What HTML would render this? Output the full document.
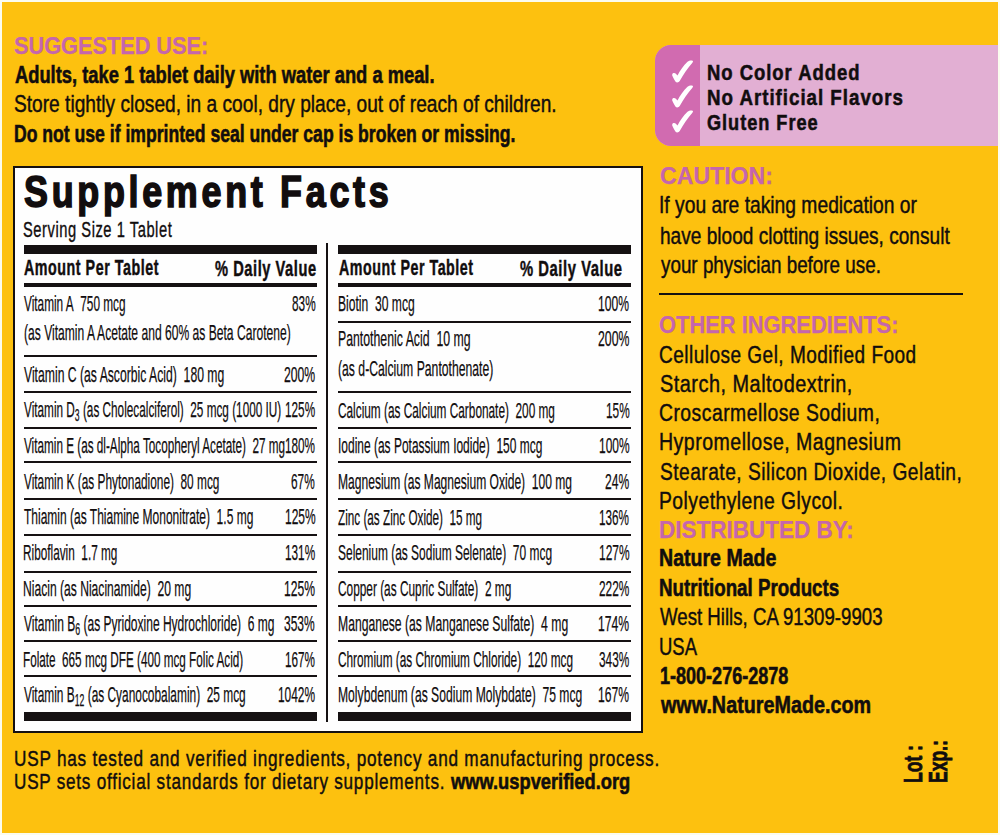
<!DOCTYPE html>
<html><head><meta charset="utf-8"><style>
html,body{margin:0;padding:0;}
body{width:1000px;height:835px;position:relative;overflow:hidden;background:#fbfcef;font-family:"Liberation Sans",sans-serif;}
.bg{position:absolute;left:2px;top:2px;width:995.8px;height:830.8px;background:#fdc10f;}
.t{position:absolute;white-space:nowrap;line-height:1;transform-origin:0 0;}
.r{position:absolute;}
sub{font-size:0.73em;vertical-align:-0.28em;line-height:0}
.box{position:absolute;left:12.5px;top:166px;width:626.5px;height:563px;border:2px solid #151112;background:#fefefe;}
.pk{position:absolute;left:655px;top:44.5px;width:342.7px;height:101.3px;background:#e2afd3;border-radius:16px 0 0 16px;overflow:hidden;}
.pkd{position:absolute;left:0;top:0;width:45px;height:100%;background:#d16bb0;}
.ck{position:absolute;}
.hr{position:absolute;left:659.2px;top:292.8px;width:303.6px;height:2px;background:#151112;}
.rot{position:absolute;white-space:nowrap;font-weight:700;color:#110d0e;transform-origin:0 0;transform:rotate(-90deg);line-height:1;-webkit-text-stroke:0.8px #110d0e}
</style></head><body>
<div class="bg"></div>
<div class="pk"><div class="pkd"></div></div>
<div class="ck" style="left:671px;top:59.5px"><svg width="24" height="24" viewBox="0 0 24 24"><path d="M1.3 14.3 C1.5 13 3.5 12.4 4.6 13.6 L6.5 15.6 C9 10.5 12.5 5.5 16.5 1.8 C18 0.6 20.5 0.2 21.6 0.8 C22.3 1.4 22 2.2 21.2 3 C16.5 8.5 12 15 8.7 21 C7.8 22.6 5.6 23 4.4 21.6 C3.2 19.5 2 17.5 1.3 15.8 C1.1 15.3 1.1 14.8 1.3 14.3 Z" fill="#fff"/></svg></div>
<div class="ck" style="left:671px;top:84.5px"><svg width="24" height="24" viewBox="0 0 24 24"><path d="M1.3 14.3 C1.5 13 3.5 12.4 4.6 13.6 L6.5 15.6 C9 10.5 12.5 5.5 16.5 1.8 C18 0.6 20.5 0.2 21.6 0.8 C22.3 1.4 22 2.2 21.2 3 C16.5 8.5 12 15 8.7 21 C7.8 22.6 5.6 23 4.4 21.6 C3.2 19.5 2 17.5 1.3 15.8 C1.1 15.3 1.1 14.8 1.3 14.3 Z" fill="#fff"/></svg></div>
<div class="ck" style="left:671px;top:109.5px"><svg width="24" height="24" viewBox="0 0 24 24"><path d="M1.3 14.3 C1.5 13 3.5 12.4 4.6 13.6 L6.5 15.6 C9 10.5 12.5 5.5 16.5 1.8 C18 0.6 20.5 0.2 21.6 0.8 C22.3 1.4 22 2.2 21.2 3 C16.5 8.5 12 15 8.7 21 C7.8 22.6 5.6 23 4.4 21.6 C3.2 19.5 2 17.5 1.3 15.8 C1.1 15.3 1.1 14.8 1.3 14.3 Z" fill="#fff"/></svg></div>
<div class="box"></div>
<div class="hr"></div>
<div class="r" style="left:24.00px;top:245.00px;width:293.20px;height:9.00px;background:#151112"></div>
<div class="r" style="left:24.00px;top:283.00px;width:293.20px;height:4.40px;background:#151112"></div>
<div class="r" style="left:24.00px;top:712.30px;width:293.20px;height:8.60px;background:#151112"></div>
<div class="r" style="left:338.30px;top:245.00px;width:293.20px;height:9.00px;background:#151112"></div>
<div class="r" style="left:338.30px;top:283.00px;width:293.20px;height:4.40px;background:#151112"></div>
<div class="r" style="left:338.30px;top:712.30px;width:293.20px;height:8.60px;background:#151112"></div>
<div class="r" style="left:24.00px;top:355.00px;width:293.20px;height:2.10px;background:#151112"></div>
<div class="r" style="left:24.00px;top:391.30px;width:293.20px;height:2.10px;background:#151112"></div>
<div class="r" style="left:24.00px;top:427.20px;width:293.20px;height:2.10px;background:#151112"></div>
<div class="r" style="left:24.00px;top:460.70px;width:293.20px;height:2.10px;background:#151112"></div>
<div class="r" style="left:24.00px;top:497.60px;width:293.20px;height:2.10px;background:#151112"></div>
<div class="r" style="left:24.00px;top:534.40px;width:293.20px;height:2.10px;background:#151112"></div>
<div class="r" style="left:24.00px;top:571.00px;width:293.20px;height:2.10px;background:#151112"></div>
<div class="r" style="left:24.00px;top:604.80px;width:293.20px;height:2.10px;background:#151112"></div>
<div class="r" style="left:24.00px;top:640.00px;width:293.20px;height:2.10px;background:#151112"></div>
<div class="r" style="left:24.00px;top:675.10px;width:293.20px;height:2.10px;background:#151112"></div>
<div class="r" style="left:338.30px;top:320.50px;width:293.20px;height:2.10px;background:#151112"></div>
<div class="r" style="left:338.30px;top:391.30px;width:293.20px;height:2.10px;background:#151112"></div>
<div class="r" style="left:338.30px;top:427.20px;width:293.20px;height:2.10px;background:#151112"></div>
<div class="r" style="left:338.30px;top:460.70px;width:293.20px;height:2.10px;background:#151112"></div>
<div class="r" style="left:338.30px;top:497.60px;width:293.20px;height:2.10px;background:#151112"></div>
<div class="r" style="left:338.30px;top:534.40px;width:293.20px;height:2.10px;background:#151112"></div>
<div class="r" style="left:338.30px;top:571.00px;width:293.20px;height:2.10px;background:#151112"></div>
<div class="r" style="left:338.30px;top:604.80px;width:293.20px;height:2.10px;background:#151112"></div>
<div class="r" style="left:338.30px;top:640.00px;width:293.20px;height:2.10px;background:#151112"></div>
<div class="r" style="left:338.30px;top:675.10px;width:293.20px;height:2.10px;background:#151112"></div>
<div class="r" style="left:326.20px;top:243.00px;width:2.20px;height:479.00px;background:#151112"></div>
<div class="t" style="left:14.40px;top:34.29px;font-size:24.13px;font-weight:700;color:#c566ad;transform:scaleX(0.9000);-webkit-text-stroke:0.25px currentColor;">SUGGESTED USE:</div>
<div class="t" style="left:14.50px;top:62.89px;font-size:24.13px;font-weight:700;color:#110d0e;transform:scaleX(0.7595);-webkit-text-stroke:0.6px currentColor;">Adults, take 1 tablet daily with water and a meal.</div>
<div class="t" style="left:13.71px;top:92.49px;font-size:24.13px;font-weight:400;color:#110d0e;transform:scaleX(0.7934);-webkit-text-stroke:0.45px currentColor;">Store tightly closed, in a cool, dry place, out of reach of children.</div>
<div class="t" style="left:14.07px;top:121.89px;font-size:24.13px;font-weight:700;color:#110d0e;transform:scaleX(0.7292);-webkit-text-stroke:0.6px currentColor;">Do not use if imprinted seal under cap is broken or missing.</div>
<div class="t" style="left:706.88px;top:60.73px;font-size:22.67px;font-weight:700;color:#110d0e;transform:scaleX(0.8151);-webkit-text-stroke:0.55px currentColor;letter-spacing:1.2px;">No Color Added</div>
<div class="t" style="left:706.87px;top:85.63px;font-size:22.67px;font-weight:700;color:#110d0e;transform:scaleX(0.8258);-webkit-text-stroke:0.55px currentColor;letter-spacing:1.2px;">No Artificial Flavors</div>
<div class="t" style="left:706.90px;top:110.53px;font-size:22.67px;font-weight:700;color:#110d0e;transform:scaleX(0.8022);-webkit-text-stroke:0.55px currentColor;letter-spacing:1.2px;">Gluten Free</div>
<div class="t" style="left:659.95px;top:163.87px;font-size:24.27px;font-weight:700;color:#c566ad;transform:scaleX(0.9526);-webkit-text-stroke:0.25px currentColor;">CAUTION:</div>
<div class="t" style="left:659.18px;top:193.34px;font-size:23.84px;font-weight:400;color:#110d0e;transform:scaleX(0.8082);-webkit-text-stroke:0.45px currentColor;">If you are taking medication or</div>
<div class="t" style="left:660.00px;top:223.74px;font-size:23.84px;font-weight:400;color:#110d0e;transform:scaleX(0.8011);-webkit-text-stroke:0.45px currentColor;">have blood clotting issues, consult</div>
<div class="t" style="left:660.80px;top:252.74px;font-size:23.84px;font-weight:400;color:#110d0e;transform:scaleX(0.7906);-webkit-text-stroke:0.45px currentColor;">your physician before use.</div>
<div class="t" style="left:659.40px;top:313.37px;font-size:24.27px;font-weight:700;color:#c566ad;transform:scaleX(0.9015);-webkit-text-stroke:0.25px currentColor;">OTHER INGREDIENTS:</div>
<div class="t" style="left:659.42px;top:342.54px;font-size:24.42px;font-weight:400;color:#110d0e;transform:scaleX(0.7804);-webkit-text-stroke:0.45px currentColor;letter-spacing:0.6px;">Cellulose Gel, Modified Food</div>
<div class="t" style="left:659.68px;top:371.54px;font-size:24.42px;font-weight:400;color:#110d0e;transform:scaleX(0.8159);-webkit-text-stroke:0.45px currentColor;letter-spacing:0.6px;">Starch, Maltodextrin,</div>
<div class="t" style="left:659.41px;top:400.84px;font-size:24.42px;font-weight:400;color:#110d0e;transform:scaleX(0.7928);-webkit-text-stroke:0.45px currentColor;letter-spacing:0.6px;">Croscarmellose Sodium,</div>
<div class="t" style="left:658.90px;top:430.14px;font-size:24.42px;font-weight:400;color:#110d0e;transform:scaleX(0.8010);-webkit-text-stroke:0.45px currentColor;letter-spacing:0.6px;">Hypromellose, Magnesium</div>
<div class="t" style="left:659.71px;top:459.74px;font-size:24.42px;font-weight:400;color:#110d0e;transform:scaleX(0.7861);-webkit-text-stroke:0.45px currentColor;letter-spacing:0.6px;">Stearate, Silicon Dioxide, Gelatin,</div>
<div class="t" style="left:658.92px;top:489.14px;font-size:24.42px;font-weight:400;color:#110d0e;transform:scaleX(0.7908);-webkit-text-stroke:0.45px currentColor;letter-spacing:0.6px;">Polyethylene Glycol.</div>
<div class="t" style="left:659.47px;top:517.97px;font-size:24.27px;font-weight:700;color:#c566ad;transform:scaleX(0.9275);-webkit-text-stroke:0.25px currentColor;">DISTRIBUTED BY:</div>
<div class="t" style="left:658.81px;top:546.20px;font-size:24.71px;font-weight:700;color:#110d0e;transform:scaleX(0.7918);-webkit-text-stroke:0.6px currentColor;">Nature Made</div>
<div class="t" style="left:658.84px;top:575.60px;font-size:24.71px;font-weight:700;color:#110d0e;transform:scaleX(0.7589);-webkit-text-stroke:0.6px currentColor;">Nutritional Products</div>
<div class="t" style="left:660.00px;top:605.40px;font-size:24.71px;font-weight:400;color:#110d0e;transform:scaleX(0.7551);-webkit-text-stroke:0.45px currentColor;">West Hills, CA 91309-9903</div>
<div class="t" style="left:658.91px;top:634.80px;font-size:24.71px;font-weight:400;color:#110d0e;transform:scaleX(0.7469);-webkit-text-stroke:0.45px currentColor;">USA</div>
<div class="t" style="left:659.87px;top:663.60px;font-size:24.71px;font-weight:700;color:#110d0e;transform:scaleX(0.7299);-webkit-text-stroke:0.6px currentColor;">1-800-276-2878</div>
<div class="t" style="left:660.50px;top:693.30px;font-size:24.71px;font-weight:700;color:#110d0e;transform:scaleX(0.8000);-webkit-text-stroke:0.6px currentColor;">www.NatureMade.com</div>
<div class="t" style="left:14.23px;top:748.10px;font-size:22.24px;font-weight:400;color:#110d0e;transform:scaleX(0.7727);-webkit-text-stroke:0.45px currentColor;letter-spacing:1.0px;">USP has tested and verified ingredients, potency and manufacturing process.</div>
<div class="t" style="left:14.23px;top:771.30px;font-size:22.24px;font-weight:400;color:#110d0e;transform:scaleX(0.7696);-webkit-text-stroke:0.45px currentColor;letter-spacing:1.0px;">USP sets official standards for dietary supplements.</div>
<div class="t" style="left:450.70px;top:771.30px;font-size:22.24px;font-weight:700;color:#110d0e;transform:scaleX(0.8230);-webkit-text-stroke:0.6px currentColor;">www.uspverified.org</div>
<div class="t" style="left:24.10px;top:171.14px;font-size:43.60px;font-weight:700;color:#110d0e;transform:scaleX(0.8233);-webkit-text-stroke:1.6px currentColor;letter-spacing:4.5px;">Supplement Facts</div>
<div class="t" style="left:23.33px;top:219.27px;font-size:21.80px;font-weight:400;color:#110d0e;transform:scaleX(0.6749);-webkit-text-stroke:0.35px currentColor;letter-spacing:0.8px;">Serving Size 1 Tablet</div>
<div class="t" style="left:24.00px;top:256.76px;font-size:21.22px;font-weight:700;color:#110d0e;transform:scaleX(0.6725);-webkit-text-stroke:0.45px currentColor;letter-spacing:0.8px;">Amount Per Tablet</div>
<div class="t" style="left:214.80px;top:257.76px;font-size:21.22px;font-weight:700;color:#110d0e;transform:scaleX(0.6904);-webkit-text-stroke:0.45px currentColor;letter-spacing:0.8px;">% Daily Value</div>
<div class="t" style="left:338.50px;top:256.76px;font-size:21.22px;font-weight:700;color:#110d0e;transform:scaleX(0.6705);-webkit-text-stroke:0.45px currentColor;letter-spacing:0.8px;">Amount Per Tablet</div>
<div class="t" style="left:519.70px;top:257.76px;font-size:21.22px;font-weight:700;color:#110d0e;transform:scaleX(0.6966);-webkit-text-stroke:0.45px currentColor;letter-spacing:0.8px;">% Daily Value</div>
<div class="t" style="left:24.20px;top:293.07px;font-size:21.80px;font-weight:400;color:#110d0e;transform:scaleX(0.5419);-webkit-text-stroke:0.25px currentColor;">Vitamin A&nbsp; 750 mcg</div>
<div class="t" style="left:291.50px;top:293.07px;font-size:21.80px;font-weight:400;color:#110d0e;transform:scaleX(0.5419);-webkit-text-stroke:0.25px currentColor;">83%</div>
<div class="t" style="left:23.65px;top:321.87px;font-size:21.80px;font-weight:400;color:#110d0e;transform:scaleX(0.5549);-webkit-text-stroke:0.25px currentColor;">(as Vitamin A Acetate and 60% as Beta Carotene)</div>
<div class="t" style="left:24.20px;top:364.27px;font-size:21.80px;font-weight:400;color:#110d0e;transform:scaleX(0.5591);-webkit-text-stroke:0.25px currentColor;">Vitamin C (as Ascorbic Acid)&nbsp; 180 mg</div>
<div class="t" style="left:284.05px;top:364.27px;font-size:21.80px;font-weight:400;color:#110d0e;transform:scaleX(0.5591);-webkit-text-stroke:0.25px currentColor;">200%</div>
<div class="t" style="left:24.20px;top:399.47px;font-size:21.80px;font-weight:400;color:#110d0e;transform:scaleX(0.5404);-webkit-text-stroke:0.25px currentColor;">Vitamin D<sub>3</sub> (as Cholecalciferol)&nbsp; 25 mcg (1000 IU)</div>
<div class="t" style="left:285.08px;top:399.47px;font-size:21.80px;font-weight:400;color:#110d0e;transform:scaleX(0.5404);-webkit-text-stroke:0.25px currentColor;">125%</div>
<div class="t" style="left:24.20px;top:434.67px;font-size:21.80px;font-weight:400;color:#110d0e;transform:scaleX(0.5382);-webkit-text-stroke:0.25px currentColor;">Vitamin E (as dl-Alpha Tocopheryl Acetate)&nbsp; 27 mg</div>
<div class="t" style="left:285.20px;top:434.67px;font-size:21.80px;font-weight:400;color:#110d0e;transform:scaleX(0.5382);-webkit-text-stroke:0.25px currentColor;">180%</div>
<div class="t" style="left:24.20px;top:470.77px;font-size:21.80px;font-weight:400;color:#110d0e;transform:scaleX(0.5436);-webkit-text-stroke:0.25px currentColor;">Vitamin K (as Phytonadione)&nbsp; 80 mcg</div>
<div class="t" style="left:291.43px;top:470.77px;font-size:21.80px;font-weight:400;color:#110d0e;transform:scaleX(0.5436);-webkit-text-stroke:0.25px currentColor;">67%</div>
<div class="t" style="left:24.20px;top:506.17px;font-size:21.80px;font-weight:400;color:#110d0e;transform:scaleX(0.5508);-webkit-text-stroke:0.25px currentColor;">Thiamin (as Thiamine Mononitrate)&nbsp; 1.5 mg</div>
<div class="t" style="left:284.50px;top:506.17px;font-size:21.80px;font-weight:400;color:#110d0e;transform:scaleX(0.5508);-webkit-text-stroke:0.25px currentColor;">125%</div>
<div class="t" style="left:23.12px;top:542.17px;font-size:21.80px;font-weight:400;color:#110d0e;transform:scaleX(0.5409);-webkit-text-stroke:0.25px currentColor;">Riboflavin&nbsp; 1.7 mg</div>
<div class="t" style="left:285.05px;top:542.17px;font-size:21.80px;font-weight:400;color:#110d0e;transform:scaleX(0.5409);-webkit-text-stroke:0.25px currentColor;">131%</div>
<div class="t" style="left:23.09px;top:578.07px;font-size:21.80px;font-weight:400;color:#110d0e;transform:scaleX(0.5553);-webkit-text-stroke:0.25px currentColor;">Niacin (as Niacinamide)&nbsp; 20 mg</div>
<div class="t" style="left:284.26px;top:578.07px;font-size:21.80px;font-weight:400;color:#110d0e;transform:scaleX(0.5553);-webkit-text-stroke:0.25px currentColor;">125%</div>
<div class="t" style="left:24.20px;top:613.27px;font-size:21.80px;font-weight:400;color:#110d0e;transform:scaleX(0.5514);-webkit-text-stroke:0.25px currentColor;">Vitamin B<sub>6</sub> (as Pyridoxine Hydrochloride)&nbsp; 6 mg</div>
<div class="t" style="left:284.47px;top:613.27px;font-size:21.80px;font-weight:400;color:#110d0e;transform:scaleX(0.5514);-webkit-text-stroke:0.25px currentColor;">353%</div>
<div class="t" style="left:23.12px;top:648.97px;font-size:21.80px;font-weight:400;color:#110d0e;transform:scaleX(0.5377);-webkit-text-stroke:0.25px currentColor;">Folate&nbsp; 665 mcg DFE (400 mcg Folic Acid)</div>
<div class="t" style="left:285.23px;top:648.97px;font-size:21.80px;font-weight:400;color:#110d0e;transform:scaleX(0.5377);-webkit-text-stroke:0.25px currentColor;">167%</div>
<div class="t" style="left:24.20px;top:684.37px;font-size:21.80px;font-weight:400;color:#110d0e;transform:scaleX(0.5459);-webkit-text-stroke:0.25px currentColor;">Vitamin B<sub>12</sub> (as Cyanocobalamin)&nbsp; 25 mcg</div>
<div class="t" style="left:278.22px;top:684.37px;font-size:21.80px;font-weight:400;color:#110d0e;transform:scaleX(0.5459);-webkit-text-stroke:0.25px currentColor;">1042%</div>
<div class="t" style="left:337.59px;top:293.07px;font-size:21.80px;font-weight:400;color:#110d0e;transform:scaleX(0.5556);-webkit-text-stroke:0.25px currentColor;">Biotin&nbsp; 30 mcg</div>
<div class="t" style="left:598.44px;top:293.07px;font-size:21.80px;font-weight:400;color:#110d0e;transform:scaleX(0.5556);-webkit-text-stroke:0.25px currentColor;">100%</div>
<div class="t" style="left:337.57px;top:328.27px;font-size:21.80px;font-weight:400;color:#110d0e;transform:scaleX(0.5638);-webkit-text-stroke:0.25px currentColor;">Pantothenic Acid&nbsp; 10 mg</div>
<div class="t" style="left:597.99px;top:328.27px;font-size:21.80px;font-weight:400;color:#110d0e;transform:scaleX(0.5638);-webkit-text-stroke:0.25px currentColor;">200%</div>
<div class="t" style="left:338.14px;top:357.87px;font-size:21.80px;font-weight:400;color:#110d0e;transform:scaleX(0.5600);-webkit-text-stroke:0.25px currentColor;">(as d-Calcium Pantothenate)</div>
<div class="t" style="left:338.16px;top:399.57px;font-size:21.80px;font-weight:400;color:#110d0e;transform:scaleX(0.5427);-webkit-text-stroke:0.25px currentColor;">Calcium (as Calcium Carbonate)&nbsp; 200 mg</div>
<div class="t" style="left:605.66px;top:399.57px;font-size:21.80px;font-weight:400;color:#110d0e;transform:scaleX(0.5427);-webkit-text-stroke:0.25px currentColor;">15%</div>
<div class="t" style="left:337.60px;top:434.67px;font-size:21.80px;font-weight:400;color:#110d0e;transform:scaleX(0.5493);-webkit-text-stroke:0.25px currentColor;">Iodine (as Potassium Iodide)&nbsp; 150 mcg</div>
<div class="t" style="left:598.79px;top:434.67px;font-size:21.80px;font-weight:400;color:#110d0e;transform:scaleX(0.5493);-webkit-text-stroke:0.25px currentColor;">100%</div>
<div class="t" style="left:337.59px;top:470.67px;font-size:21.80px;font-weight:400;color:#110d0e;transform:scaleX(0.5536);-webkit-text-stroke:0.25px currentColor;">Magnesium (as Magnesium Oxide)&nbsp; 100 mg</div>
<div class="t" style="left:605.20px;top:470.67px;font-size:21.80px;font-weight:400;color:#110d0e;transform:scaleX(0.5536);-webkit-text-stroke:0.25px currentColor;">24%</div>
<div class="t" style="left:338.16px;top:506.67px;font-size:21.80px;font-weight:400;color:#110d0e;transform:scaleX(0.5383);-webkit-text-stroke:0.25px currentColor;">Zinc (as Zinc Oxide)&nbsp; 15 mg</div>
<div class="t" style="left:599.39px;top:506.67px;font-size:21.80px;font-weight:400;color:#110d0e;transform:scaleX(0.5383);-webkit-text-stroke:0.25px currentColor;">136%</div>
<div class="t" style="left:338.15px;top:542.17px;font-size:21.80px;font-weight:400;color:#110d0e;transform:scaleX(0.5487);-webkit-text-stroke:0.25px currentColor;">Selenium (as Sodium Selenate)&nbsp; 70 mcg</div>
<div class="t" style="left:598.82px;top:542.17px;font-size:21.80px;font-weight:400;color:#110d0e;transform:scaleX(0.5487);-webkit-text-stroke:0.25px currentColor;">127%</div>
<div class="t" style="left:338.16px;top:578.07px;font-size:21.80px;font-weight:400;color:#110d0e;transform:scaleX(0.5438);-webkit-text-stroke:0.25px currentColor;">Copper (as Cupric Sulfate)&nbsp; 2 mg</div>
<div class="t" style="left:599.09px;top:578.07px;font-size:21.80px;font-weight:400;color:#110d0e;transform:scaleX(0.5438);-webkit-text-stroke:0.25px currentColor;">222%</div>
<div class="t" style="left:337.58px;top:613.27px;font-size:21.80px;font-weight:400;color:#110d0e;transform:scaleX(0.5587);-webkit-text-stroke:0.25px currentColor;">Manganese (as Manganese Sulfate)&nbsp; 4 mg</div>
<div class="t" style="left:598.27px;top:613.27px;font-size:21.80px;font-weight:400;color:#110d0e;transform:scaleX(0.5587);-webkit-text-stroke:0.25px currentColor;">174%</div>
<div class="t" style="left:338.16px;top:648.97px;font-size:21.80px;font-weight:400;color:#110d0e;transform:scaleX(0.5419);-webkit-text-stroke:0.25px currentColor;">Chromium (as Chromium Chloride)&nbsp; 120 mcg</div>
<div class="t" style="left:599.20px;top:648.97px;font-size:21.80px;font-weight:400;color:#110d0e;transform:scaleX(0.5419);-webkit-text-stroke:0.25px currentColor;">343%</div>
<div class="t" style="left:337.59px;top:684.37px;font-size:21.80px;font-weight:400;color:#110d0e;transform:scaleX(0.5569);-webkit-text-stroke:0.25px currentColor;">Molybdenum (as Sodium Molybdate)&nbsp; 75 mcg</div>
<div class="t" style="left:598.37px;top:684.37px;font-size:21.80px;font-weight:400;color:#110d0e;transform:scaleX(0.5569);-webkit-text-stroke:0.25px currentColor;">167%</div>
<div class="rot" style="left:900.5px;top:782.5px;font-size:25px;transform:rotate(-90deg) scaleX(0.7)">Lot :</div>
<div class="rot" style="left:926px;top:783px;font-size:25px;transform:rotate(-90deg) scaleX(0.7)">Exp.:</div>
</body></html>
